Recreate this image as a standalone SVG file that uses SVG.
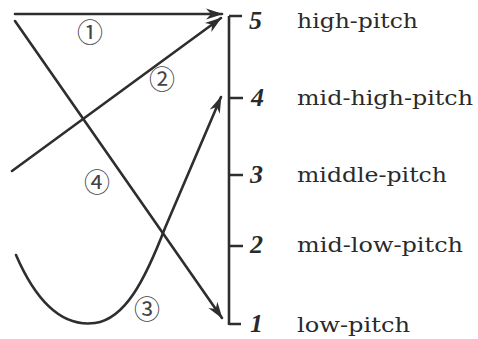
<svg xmlns="http://www.w3.org/2000/svg" width="478" height="339" viewBox="0 0 478 339">
<style>
.ln{fill:none;stroke:#2e2e2e;stroke-width:2.6;stroke-linecap:round;stroke-linejoin:round}
.ax{fill:none;stroke:#2e2e2e;stroke-width:2.6}
.num{font-family:"Liberation Serif",serif;font-weight:bold;font-style:italic;font-size:26px;fill:#2a2a2a}
.lab{font-family:"DejaVu Serif","Liberation Serif",serif;font-size:20px;fill:#2a2a2a}
.cir{font-family:"Noto Sans CJK JP","DejaVu Sans",sans-serif;font-size:26px;fill:#444;text-anchor:middle}
</style>
<defs>
<marker id="ah" markerUnits="userSpaceOnUse" markerWidth="20" markerHeight="14" viewBox="-18 -7 20 14" refX="0" refY="0" orient="auto">
<path d="M1,0 L-16,-5.5 L-11,0 L-16,5.5 Z" fill="#2e2e2e"/>
</marker>
</defs>
<rect width="478" height="339" fill="#fff"/>
<g id="scale">
<path class="ax" d="M229,16 V325 M229,16 H242 M229,98 H243 M229,175 H243 M229,246 H243 M229,324 H241"/>
</g>
<g id="level5"><text class="num" x="249" y="29">5</text><text class="lab" x="297" y="28" textLength="121" lengthAdjust="spacingAndGlyphs">high-pitch</text></g>
<g id="level4"><text class="num" x="251" y="106">4</text><text class="lab" x="297" y="105" textLength="176" lengthAdjust="spacingAndGlyphs">mid-high-pitch</text></g>
<g id="level3"><text class="num" x="250" y="183">3</text><text class="lab" x="297" y="182" textLength="150" lengthAdjust="spacingAndGlyphs">middle-pitch</text></g>
<g id="level2"><text class="num" x="250" y="253">2</text><text class="lab" x="297" y="252" textLength="166" lengthAdjust="spacingAndGlyphs">mid-low-pitch</text></g>
<g id="level1"><text class="num" x="250" y="332">1</text><text class="lab" x="297" y="332" textLength="113" lengthAdjust="spacingAndGlyphs">low-pitch</text></g>
<g id="connectors">
<path class="ln" d="M15,14 L222,14" marker-end="url(#ah)"/>
<path class="ln" d="M12,171 L221,18" marker-end="url(#ah)"/>
<path class="ln" d="M16,255 C42,315 72,326 95,323 C125,319 145,280 165,228 L221,97" marker-end="url(#ah)"/>
<path class="ln" d="M15,21 L222,318" marker-end="url(#ah)"/>
</g>
<g id="labels">
<text class="cir" x="90" y="42">①</text>
<text class="cir" x="162" y="89">②</text>
<text class="cir" x="147" y="319">③</text>
<text class="cir" x="97" y="192">④</text>
</g>
</svg>
